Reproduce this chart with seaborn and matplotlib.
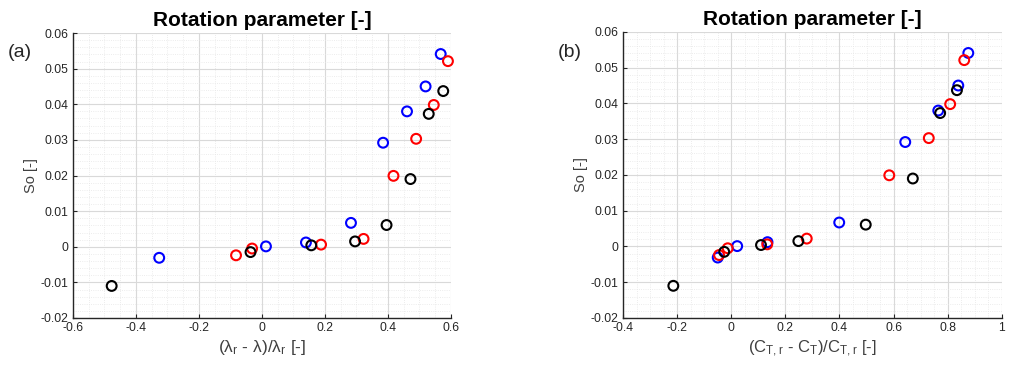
import numpy as np
import pandas as pd
import matplotlib
matplotlib.use("Agg")
import matplotlib.pyplot as plt
import seaborn as sns
from matplotlib.ticker import MultipleLocator

sns.set_theme(style="white")
plt.rcParams['font.family'] = ['Liberation Sans', 'DejaVu Sans']
plt.rcParams['mathtext.default'] = 'regular'

series = ["blue", "red", "black"]
colors = {"blue": "#0000ff", "red": "#ff0000", "black": "#000000"}

# So values (shared by both panels)
so_blue = [0.0541, 0.0450, 0.0380, 0.0292, 0.0067, 0.0012, 0.0001, -0.0031]
so_red = [0.0521, 0.0398, 0.0303, 0.0199, 0.0022, 0.0006, -0.0005, -0.0024]
so_black = [0.0437, 0.0373, 0.0190, 0.0061, 0.0015, 0.0004, -0.0015, -0.0110]

# panel (a): (lambda_r - lambda)/lambda_r
xa_blue = [0.568, 0.520, 0.461, 0.385, 0.283, 0.140, 0.013, -0.326]
xa_red = [0.591, 0.546, 0.490, 0.418, 0.323, 0.188, -0.031, -0.082]
xa_black = [0.576, 0.530, 0.472, 0.396, 0.296, 0.157, -0.036, -0.477]

# panel (b): (CT_r - CT)/CT_r
xb_blue = [0.876, 0.839, 0.765, 0.643, 0.399, 0.134, 0.022, -0.050]
xb_red = [0.861, 0.809, 0.730, 0.584, 0.279, 0.133, -0.013, -0.045]
xb_black = [0.834, 0.772, 0.671, 0.497, 0.248, 0.110, -0.026, -0.214]

title = "Rotation parameter [-]"
ylabel = "So [-]"
xlabel_a = "(λ$_r$ - λ)/λ$_r$ [-]"
xlabel_b = "(C$_{T,r}$ - C$_T$)/C$_{T,r}$ [-]"


def make_df(xs, ys):
    rows = []
    for s, xv, yv in zip(series, xs, ys):
        for a, b in zip(xv, yv):
            rows.append({"x": a, "y": b, "s": s})
    return pd.DataFrame(rows)


df_a = make_df([xa_blue, xa_red, xa_black], [so_blue, so_red, so_black])
df_b = make_df([xb_blue, xb_red, xb_black], [so_blue, so_red, so_black])

fig = plt.figure(figsize=(10.13, 3.75), dpi=100)
ax_a = fig.add_axes([0.072, 0.152, 0.373, 0.760])
ax_b = fig.add_axes([0.615, 0.152, 0.374, 0.763])

axcol = "#262626"
labcol = "#404040"


def style(ax, df, xlim, xmajor, xlabel, xlsize):
    for s in series:
        sub = df[df.s == s]
        sns.scatterplot(data=sub, x="x", y="y", ax=ax, s=50, marker="o",
                        color=colors[s], legend=False, zorder=3, clip_on=False)
        coll = ax.collections[-1]
        coll.set_facecolors("none")
        coll.set_edgecolors(colors[s])
        coll.set_linewidths(1.5)
    ax.set_xlim(*xlim)
    ax.set_ylim(-0.02, 0.06)
    ax.xaxis.set_major_locator(MultipleLocator(xmajor))
    ax.xaxis.set_minor_locator(MultipleLocator(xmajor / 4))
    ax.yaxis.set_major_locator(MultipleLocator(0.01))
    ax.yaxis.set_minor_locator(MultipleLocator(0.002))
    ax.grid(which="major", color="#d9d9d9", linewidth=0.8)
    ax.grid(which="minor", color="#e6e6e6", linewidth=0.6, linestyle=":")
    ax.set_axisbelow(True)
    for sp in ["top", "right"]:
        ax.spines[sp].set_visible(False)
    for sp in ["left", "bottom"]:
        ax.spines[sp].set_color(axcol)
        ax.spines[sp].set_linewidth(1.0)
    ax.tick_params(which="major", direction="in", length=3, width=0.8,
                   colors=axcol, labelsize=8.7, pad=3, left=True, bottom=True)
    ax.tick_params(which="minor", length=0)
    ax.set_title(title, fontsize=15, fontweight="bold", pad=5, color="black")
    ax.set_xlabel(xlabel, fontsize=xlsize, color=labcol, labelpad=3)
    ax.set_ylabel(ylabel, fontsize=10.5, color=labcol, labelpad=2)

    def fmt(v, pos):
        if abs(v) < 1e-12:
            return "0"
        return ("%g" % round(v, 4))
    ax.xaxis.set_major_formatter(plt.FuncFormatter(fmt))
    ax.yaxis.set_major_formatter(plt.FuncFormatter(fmt))


style(ax_a, df_a, (-0.6, 0.6), 0.2, xlabel_a, 12.5)
style(ax_b, df_b, (-0.4, 1.0), 0.2, xlabel_b, 12)

fig.text(0.008, 0.861, "(a)", fontsize=14, va="center", ha="left")
fig.text(0.551, 0.861, "(b)", fontsize=14, va="center", ha="left")

fig.savefig("out.png", dpi=100, facecolor="white")
